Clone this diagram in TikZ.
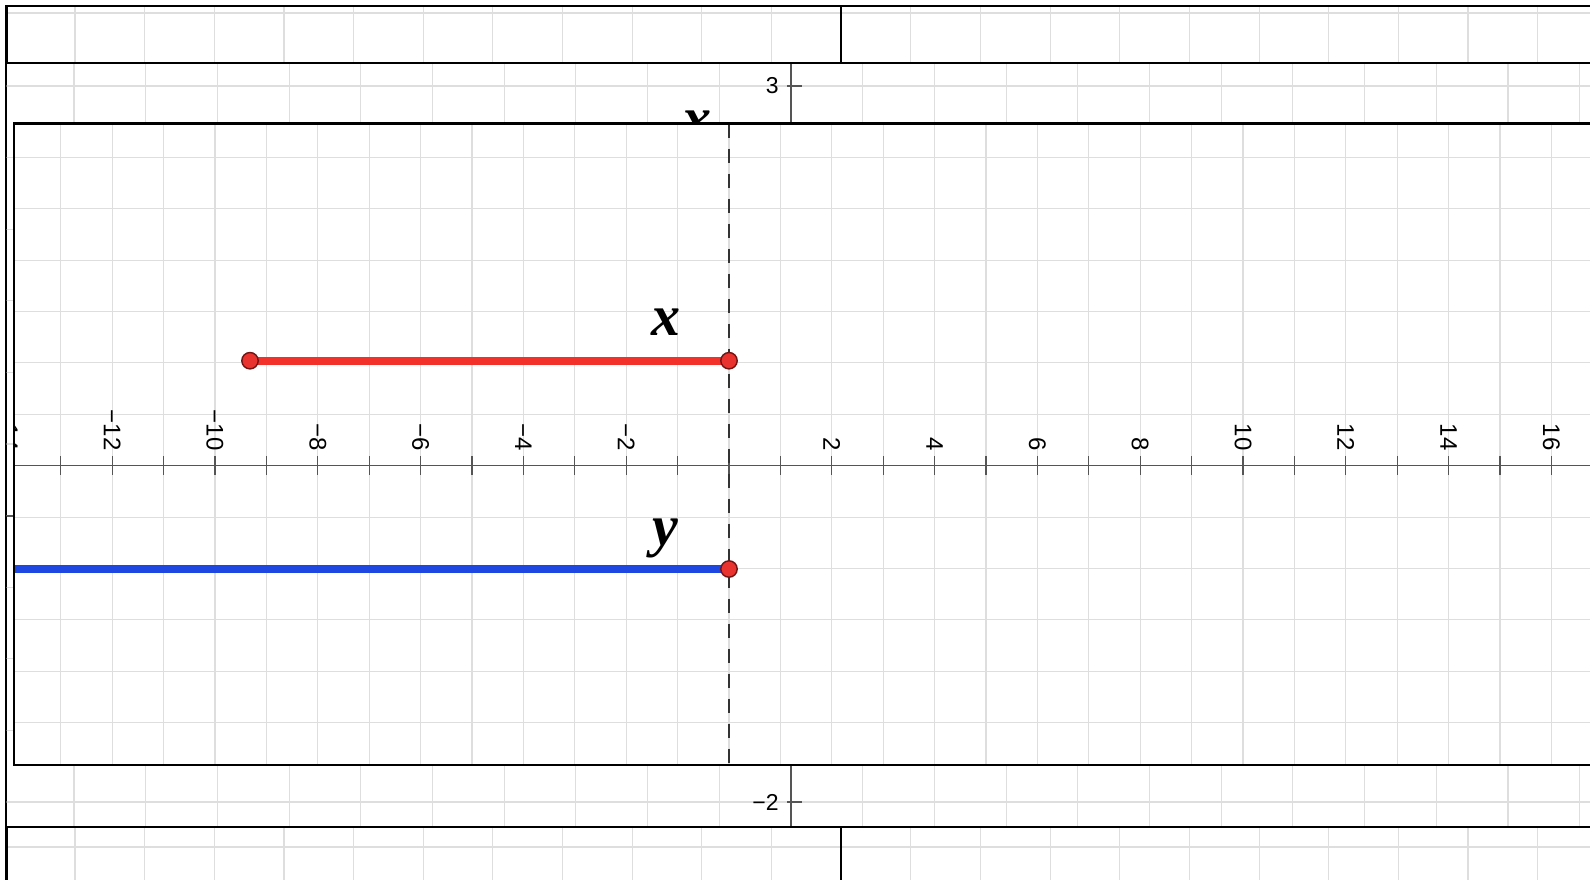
\documentclass[tikz,border=0pt]{standalone}
\usepackage{fontspec}
\setmainfont{Liberation Serif}
\newfontfamily\labfont{Liberation Sans}
\definecolor{gridc}{HTML}{DEDEDE}
\definecolor{axisc}{HTML}{555555}
\definecolor{dashc}{HTML}{333333}
\definecolor{segred}{HTML}{F2312B}
\definecolor{segblue}{HTML}{1E46E0}
\definecolor{dotred}{HTML}{E8332E}
\definecolor{dotedge}{HTML}{701414}
\begin{document}
\begin{tikzpicture}[x=0.5pt,y=-0.5pt,
  frame/.style={line width=1.2pt, black},
  gridline/.style={gridc, line width=0.55pt},
  axisline/.style={axisc, line width=0.6pt},
  ticklab/.style={font=\labfont\fontsize{12}{12}\selectfont, rotate=-90, anchor=east, inner sep=0pt, text=black},
  midlab/.style={font=\labfont\fontsize{11.5}{11.5}\selectfont, anchor=east, inner sep=0pt, text=black},
  varlab/.style={font=\fontsize{29}{29}\selectfont\bfseries\itshape, anchor=base, inner sep=0pt},
  seg/.style={line width=3.8pt},
  enddot/.style={circle, fill=dotred, draw=dotedge, line width=0.7pt, minimum size=8.2pt, inner sep=0pt},
  dashline/.style={dashc, line width=1pt, dash pattern=on 7pt off 5.5pt}]
\useasboundingbox (0,0) rectangle (1590,879);
\fill[white] (0,0) rectangle (1590,879);

% ---------- outer layer ----------
\begin{scope}
  \clip (6.5,6) rectangle (1600,890);
  \foreach \i in {-1,...,22} \draw[gridline] ({75+69.65*\i},0) -- ({75+69.65*\i},890);
  \foreach \j in {0,...,12} \draw[gridline] (0,{13+69.5*\j}) -- (1600,{13+69.5*\j});
\end{scope}
\draw[frame] (6.5,890) -- (6.5,6) -- (1600,6);
\draw[frame] (841,6) -- (841,890);

% ---------- middle layer ----------
\fill[white] (6.5,63) rectangle (1600,827);
\begin{scope}
  \clip (6.5,63) rectangle (1600,827);
  \foreach \i in {-11,...,12} \draw[gridline] ({791+71.7*\i},63) -- ({791+71.7*\i},827);
  \foreach \j in {0,...,10} \draw[gridline] (0,{86+71.6*\j}) -- (1600,{86+71.6*\j});
  \draw[axisline] (791,63) -- (791,827);
  \draw[axisline] (0,516) -- (1600,516);
  \draw[axisline] (787,86) -- (802,86);
  \draw[axisline] (787,802) -- (802,802);
  \node[midlab] (mthree) at (779,86) {3};
  \node[midlab] (mmtwo) at (779,802) {−2};
  \node[varlab] (mx) at (697,137) {x};
\end{scope}
\draw[frame] (6.5,63) -- (1600,63);
\draw[frame] (6.5,827) -- (1600,827);

% ---------- inner layer ----------
\fill[white] (14,123.5) rectangle (1600,765);
\begin{scope}
  \clip (14,123.5) rectangle (1600,765);
  \foreach \i in {-14,...,17} \draw[gridline] ({729+51.4*\i},123.5) -- ({729+51.4*\i},765);
  \foreach \j in {-7,...,6} \draw[gridline] (0,{465.7+51.4*\j}) -- (1600,{465.7+51.4*\j});
  \draw[axisline] (0,465.7) -- (1600,465.7);
  \foreach \i in {-14,...,17} \draw[axisline] ({729+51.4*\i},456) -- ({729+51.4*\i},475);
  \foreach \k/\t in {-14/−14,-12/−12,-10/−10,-8/−8,-6/−6,-4/−4,-2/−2,2/2,4/4,6/6,8/8,10/10,12/12,14/14,16/16}
    \node[ticklab] (tl\k) at ({729+51.4*\k},451) {\t};
  \coordinate (dtop) at (729,123.5);
  \coordinate (dbot) at (729,765);
  \draw[dashline] (dtop) -- (dbot);
  \coordinate (rA) at (250,360.7);
  \coordinate (rB) at (729,360.7);
  \coordinate (bA) at (-10,569);
  \coordinate (bB) at (729,569);
  \draw[seg, segred] (rA) -- (rB);
  \draw[seg, segblue] (bA) -- (bB);
  \node[enddot] (rdotA) at (rA) {};
  \node[enddot] (rdotB) at (rB) {};
  \node[enddot] (bdotB) at (bB) {};
  \node[varlab] (xlab) at (665.5,335) {x};
  \node[varlab] (ylab) at (665,545) {y};
\end{scope}
\draw[frame] (1600,123.5) -- (14,123.5) -- (14,765) -- (1600,765);
\end{tikzpicture}
\end{document}
